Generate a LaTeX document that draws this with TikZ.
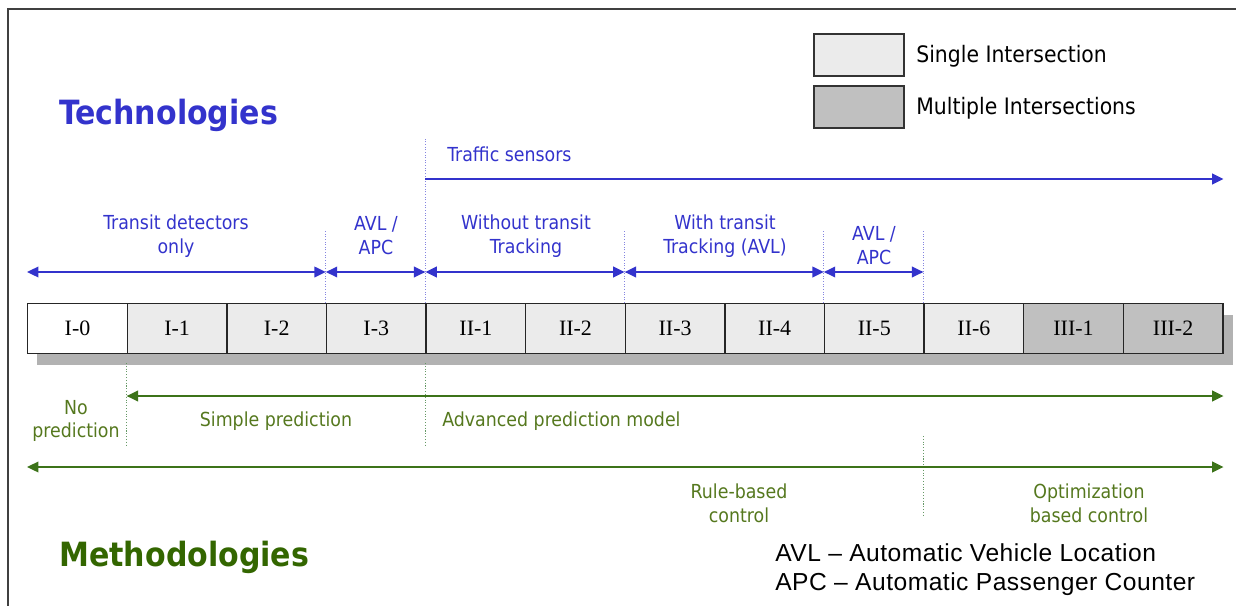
\documentclass[tikz,border=0pt]{standalone}
\usepackage{fontspec}
\setmainfont{Liberation Serif}
\newfontfamily\labelfont{DejaVu Sans Condensed}
\newfontfamily\notefont[Ligatures=TeX,LetterSpace=2]{Liberation Sans}
\usetikzlibrary{arrows.meta}

\definecolor{techblue}{RGB}{51,51,204}
\definecolor{methgreen}{RGB}{51,102,0}
\definecolor{labgreen}{RGB}{85,120,30}
\definecolor{linegreen}{RGB}{60,115,25}
\definecolor{singlegray}{RGB}{235,235,235}
\definecolor{multigray}{RGB}{192,192,192}
\definecolor{shadowgray}{RGB}{178,178,178}

\begin{document}
\begin{tikzpicture}[x=0.02cm, y=-0.02cm,
    level/.style={draw=black!85, line width=0.8pt, anchor=north west, inner sep=0pt,
                  minimum width=1.992cm, minimum height=1cm, font=\fontsize{12.5}{14}\selectfont},
    techlab/.style={text=techblue, align=center, inner sep=0pt, font=\labelfont\fontsize{11}{13.6}\selectfont},
    methlab/.style={text=labgreen, align=center, inner sep=0pt, font=\labelfont\fontsize{11}{13.6}\selectfont},
    title/.style={inner sep=0pt, anchor=west, font=\labelfont\bfseries\fontsize{19}{22}\selectfont},
    legbox/.style={draw=black!80, line width=1pt, minimum width=1.8cm, minimum height=0.84cm, inner sep=0pt},
    legtxt/.style={anchor=west, inner sep=0pt, font=\labelfont\fontsize{12.9}{15}\selectfont},
    tarrow/.style={techblue, line width=1.1pt, {Triangle[length=6.5pt,width=6pt]}-{Triangle[length=6.5pt,width=6pt]}},
    marrow/.style={linegreen, line width=1.1pt, {Triangle[length=6.5pt,width=6pt]}-{Triangle[length=6.5pt,width=6pt]}},
    tdash/.style={techblue!60, line width=0.5pt, densely dotted},
    mdash/.style={gray!80!green, line width=0.6pt, densely dotted}
]
\useasboundingbox (0,0) rectangle (1236,605);
%% ============================================================
%% FRAME
%% ============================================================
\draw[black!75, line width=1.1pt] (8,610) -- (8,9) -- (1240,9);
%% ============================================================
%% LEGEND
%% ============================================================
\node[legbox, fill=singlegray] (legS) at (859,55) {};
\node[legbox, fill=multigray]  (legM) at (859,107) {};
\node[legtxt] (legStxt) at (916,56) {Single Intersection};
\node[legtxt] (legMtxt) at (916,108) {Multiple Intersections};
%% ============================================================
%% LEVELS ROW (with shadow)
%% ============================================================
\fill[shadowgray] (37,315) rectangle (1233,365);
\node[level, fill=white]      (b0)  at (27,303)   {I-0};
\node[level, fill=singlegray] (b1)  at (126.6,303) {I-1};
\node[level, fill=singlegray] (b2)  at (226.2,303) {I-2};
\node[level, fill=singlegray] (b3)  at (325.8,303) {I-3};
\node[level, fill=singlegray] (b4)  at (425.4,303) {II-1};
\node[level, fill=singlegray] (b5)  at (525,303)   {II-2};
\node[level, fill=singlegray] (b6)  at (624.6,303) {II-3};
\node[level, fill=singlegray] (b7)  at (724.2,303) {II-4};
\node[level, fill=singlegray] (b8)  at (823.8,303) {II-5};
\node[level, fill=singlegray] (b9)  at (923.4,303) {II-6};
\node[level, fill=multigray]  (b10) at (1023,303)  {III-1};
\node[level, fill=multigray]  (b11) at (1122.6,303) {III-2};
%% ============================================================
%% TECHNOLOGIES
%% ============================================================
\node[title, text=techblue] (tech) at (59,115) {Technologies};
\coordinate (t0) at (27,272);
\coordinate (t3) at (b3.north west |- t0);
\coordinate (t4) at (b4.north west |- t0);
\coordinate (t6) at (b6.north west |- t0);
\coordinate (t8) at (b8.north west |- t0);
\coordinate (t9) at (b9.north west |- t0);
\coordinate (ts) at (b4.north west |- 0,179);
\coordinate (te) at (b11.north east |- 0,179);
\draw[tdash] (b3.north west) -- ++(0,-73);
\draw[tdash] (b4.north west) -- ++(0,-164);
\draw[tdash] (b6.north west) -- ++(0,-73);
\draw[tdash] (b8.north west) -- ++(0,-73);
\draw[tdash] (b9.north west) -- ++(0,-73);
\draw[tarrow] (t0) -- (t3);
\draw[tarrow] (t3) -- (t4);
\draw[tarrow] (t4) -- (t6);
\draw[tarrow] (t6) -- (t8);
\draw[tarrow] (t8) -- (t9);
\draw[techblue, line width=1.1pt, -{Triangle[length=6.5pt,width=6pt]}] (ts) -- (te);
\node[techlab, anchor=west] (traffic) at (447,154) {Traffic sensors};
\node[techlab] (tdet)    at (176,236) {Transit detectors\\only};
\node[techlab] (avl1)    at (376,236) {AVL /\\APC};
\node[techlab] (notrack) at (526,236) {Without transit\\Tracking};
\node[techlab] (track)   at (725,236) {With transit\\Tracking (AVL)};
\node[techlab] (avl2)    at (874,246) {AVL /\\APC};
%% ============================================================
%% METHODOLOGIES
%% ============================================================
\coordinate (m1s) at (b1.north west |- 0,396);
\coordinate (m1e) at (b11.north east |- 0,396);
\coordinate (m2s) at (27,467);
\coordinate (m2e) at (b11.north east |- 0,467);
\draw[mdash] (b1.south west |- 0,363) -- (b1.south west |- 0,445);
\draw[mdash] (b4.south west |- 0,363) -- (b4.south west |- 0,445);
\draw[mdash] (b9.south west |- 0,436) -- (b9.south west |- 0,517);
\draw[marrow] (m1s) -- (m1e);
\draw[marrow] (m2s) -- (m2e);
\node[methlab] (nopred) at (76,421)  {No\\prediction};
\node[methlab] (simple) at (276,421) {Simple prediction};
\node[methlab, anchor=west] (adv) at (442,421) {Advanced prediction model};
\node[methlab] (rule)   at (739,503) {Rule-based\\control};
\node[methlab] (optim)  at (1089,503) {Optimization\\based control};
\node[title, text=methgreen] (meth) at (59,557) {Methodologies};
%% Abbreviations
\node[anchor=west, align=left, inner sep=0pt, font=\notefont\fontsize{14}{16.4}\selectfont] (foot) at (775,570)
  {AVL -- Automatic Vehicle Location\\APC -- Automatic Passenger Counter};
\end{tikzpicture}
\end{document}
